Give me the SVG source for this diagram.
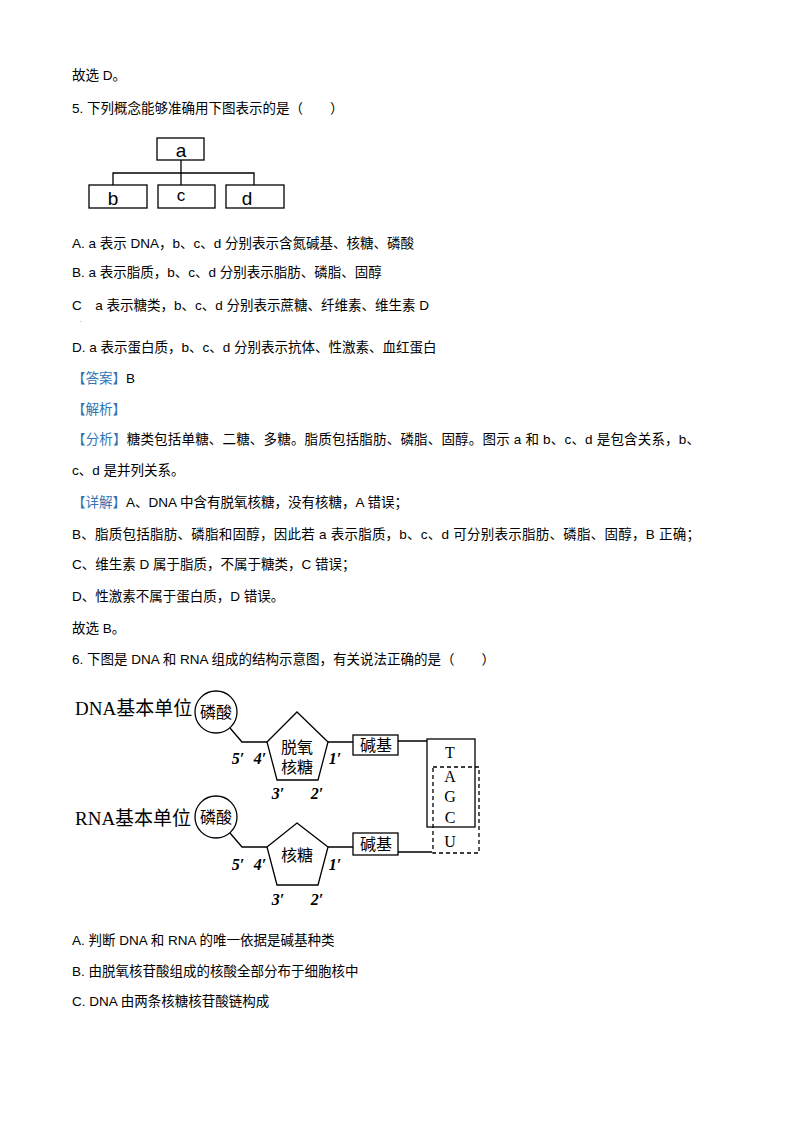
<svg xmlns="http://www.w3.org/2000/svg" width="794" height="1123" viewBox="0 0 794 1123">
<style>
.t{font-family:"Liberation Sans","Noto Sans CJK SC",sans-serif;font-size:13.5px;fill:#000}
.s{font-family:"Liberation Serif","Noto Sans CJK SC",serif;fill:#000}
.bl{fill:#2f75b5}
.b{fill:#fff;stroke:#000;stroke-width:1.3}
.l{fill:none;stroke:#000;stroke-width:1.3}
</style>
<rect width="794" height="1123" fill="#fff"/>
<g id="text">
<text class="t" x="72" y="80">故选 D。</text>
<text class="t" x="72" y="113">5. 下列概念能够准确用下图表示的是（　　）</text>
<text class="t" x="72" y="248">A. a 表示 DNA，b、c、d 分别表示含氮碱基、核糖、磷酸</text>
<text class="t" x="72" y="277">B. a 表示脂质，b、c、d 分别表示脂肪、磷脂、固醇</text>
<text class="t" x="72" y="310">C　a 表示糖类，b、c、d 分别表示蔗糖、纤维素、维生素 D</text>
<text class="t" x="80" y="322" style="font-size:6px">.</text>
<text class="t" x="72" y="352">D. a 表示蛋白质，b、c、d 分别表示抗体、性激素、血红蛋白</text>
<text class="t" x="72" y="383"><tspan class="bl">【答案】</tspan>B</text>
<text class="t" x="72" y="414"><tspan class="bl">【解析】</tspan></text>
<text class="t" x="72" y="444" textLength="628"><tspan class="bl">【分析】</tspan>糖类包括单糖、二糖、多糖。脂质包括脂肪、磷脂、固醇。图示 a 和 b、c、d 是包含关系，b、</text>
<text class="t" x="72" y="475">c、d 是并列关系。</text>
<text class="t" x="72" y="507"><tspan class="bl">【详解】</tspan>A、DNA 中含有脱氧核糖，没有核糖，A 错误；</text>
<text class="t" x="72" y="539" textLength="628">B、脂质包括脂肪、磷脂和固醇，因此若 a 表示脂质，b、c、d 可分别表示脂肪、磷脂、固醇，B 正确；</text>
<text class="t" x="72" y="569">C、维生素 D 属于脂质，不属于糖类，C 错误；</text>
<text class="t" x="72" y="601">D、性激素不属于蛋白质，D 错误。</text>
<text class="t" x="72" y="633">故选 B。</text>
<text class="t" x="72" y="664">6. 下图是 DNA 和 RNA 组成的结构示意图，有关说法正确的是（　　）</text>
<text class="t" x="72" y="945">A. 判断 DNA 和 RNA 的唯一依据是碱基种类</text>
<text class="t" x="72" y="976">B. 由脱氧核苷酸组成的核酸全部分布于细胞核中</text>
<text class="t" x="72" y="1006">C. DNA 由两条核糖核苷酸链构成</text>
</g>
<g id="connectors">
<path class="l" d="M181 160V185M113 185V173H254V185"/>
<path class="l" d="M230 728L242 742H267M328 742H353M398 741H427"/>
<path class="l" d="M230 833L242 847H267M328 847H353M398 852H432"/>
</g>
<g id="node-a"><rect class="b" x="157" y="138" width="47" height="22"/><text class="t" x="181" y="157" text-anchor="middle" style="font-size:19px">a</text></g>
<g id="node-b"><rect class="b" x="89" y="185" width="58" height="23"/><text class="t" x="113" y="205" text-anchor="middle" style="font-size:19px">b</text></g>
<g id="node-c"><rect class="b" x="158" y="185" width="57" height="23"/><text class="t" x="181" y="201" text-anchor="middle" style="font-size:17px">c</text></g>
<g id="node-d"><rect class="b" x="226" y="185" width="58" height="23"/><text class="t" x="247" y="205" text-anchor="middle" style="font-size:19px">d</text></g>
<g id="dna-label"><text class="s" x="75" y="715" style="font-size:19px">DNA基本单位</text></g>
<g id="rna-label"><text class="s" x="75" y="825" style="font-size:19px">RNA基本单位</text></g>
<g id="dna-phosphate"><circle class="b" cx="216" cy="712" r="21"/><text class="s" x="216" y="718" text-anchor="middle" style="font-size:16px">磷酸</text></g>
<g id="rna-phosphate"><circle class="b" cx="216" cy="817" r="21"/><text class="s" x="216" y="823" text-anchor="middle" style="font-size:16px">磷酸</text></g>
<g id="dna-sugar"><polygon class="b" points="297,712 328,742 318,780 277,780 267,742"/><text class="s" x="297" y="753" text-anchor="middle" style="font-size:16px">脱氧</text><text class="s" x="297" y="773" text-anchor="middle" style="font-size:16px">核糖</text></g>
<g id="rna-sugar"><polygon class="b" points="297,823 328,847 318,885 277,885 267,847"/><text class="s" x="297" y="861" text-anchor="middle" style="font-size:16px">核糖</text></g>
<g id="primes">
<text class="s" x="238" y="764" text-anchor="middle" font-style="italic" font-weight="bold" font-size="16">5′</text>
<text class="s" x="260" y="764" text-anchor="middle" font-style="italic" font-weight="bold" font-size="16">4′</text>
<text class="s" x="335" y="764" text-anchor="middle" font-style="italic" font-weight="bold" font-size="16">1′</text>
<text class="s" x="278" y="799" text-anchor="middle" font-style="italic" font-weight="bold" font-size="16">3′</text>
<text class="s" x="317" y="799" text-anchor="middle" font-style="italic" font-weight="bold" font-size="16">2′</text>
<text class="s" x="238" y="870" text-anchor="middle" font-style="italic" font-weight="bold" font-size="16">5′</text>
<text class="s" x="260" y="870" text-anchor="middle" font-style="italic" font-weight="bold" font-size="16">4′</text>
<text class="s" x="335" y="870" text-anchor="middle" font-style="italic" font-weight="bold" font-size="16">1′</text>
<text class="s" x="278" y="905" text-anchor="middle" font-style="italic" font-weight="bold" font-size="16">3′</text>
<text class="s" x="317" y="905" text-anchor="middle" font-style="italic" font-weight="bold" font-size="16">2′</text>
</g>
<g id="dna-base"><rect class="b" x="353" y="735" width="45" height="20"/><text class="s" x="376" y="751" text-anchor="middle" style="font-size:16px">碱基</text></g>
<g id="rna-base"><rect class="b" x="353" y="833" width="45" height="22"/><text class="s" x="376" y="850" text-anchor="middle" style="font-size:16px">碱基</text></g>
<g id="dna-bases"><rect class="l" x="427" y="739" width="48" height="88"/></g>
<g id="rna-bases"><rect class="l" x="433" y="767" width="46" height="86" stroke-dasharray="4,3"/></g>
<g id="letters">
<text class="s" x="450" y="758" text-anchor="middle" font-size="16">T</text>
<text class="s" x="450" y="782" text-anchor="middle" font-size="16">A</text>
<text class="s" x="450" y="802" text-anchor="middle" font-size="16">G</text>
<text class="s" x="450" y="823" text-anchor="middle" font-size="16">C</text>
<text class="s" x="450" y="847" text-anchor="middle" font-size="16">U</text>
</g>
</svg>
